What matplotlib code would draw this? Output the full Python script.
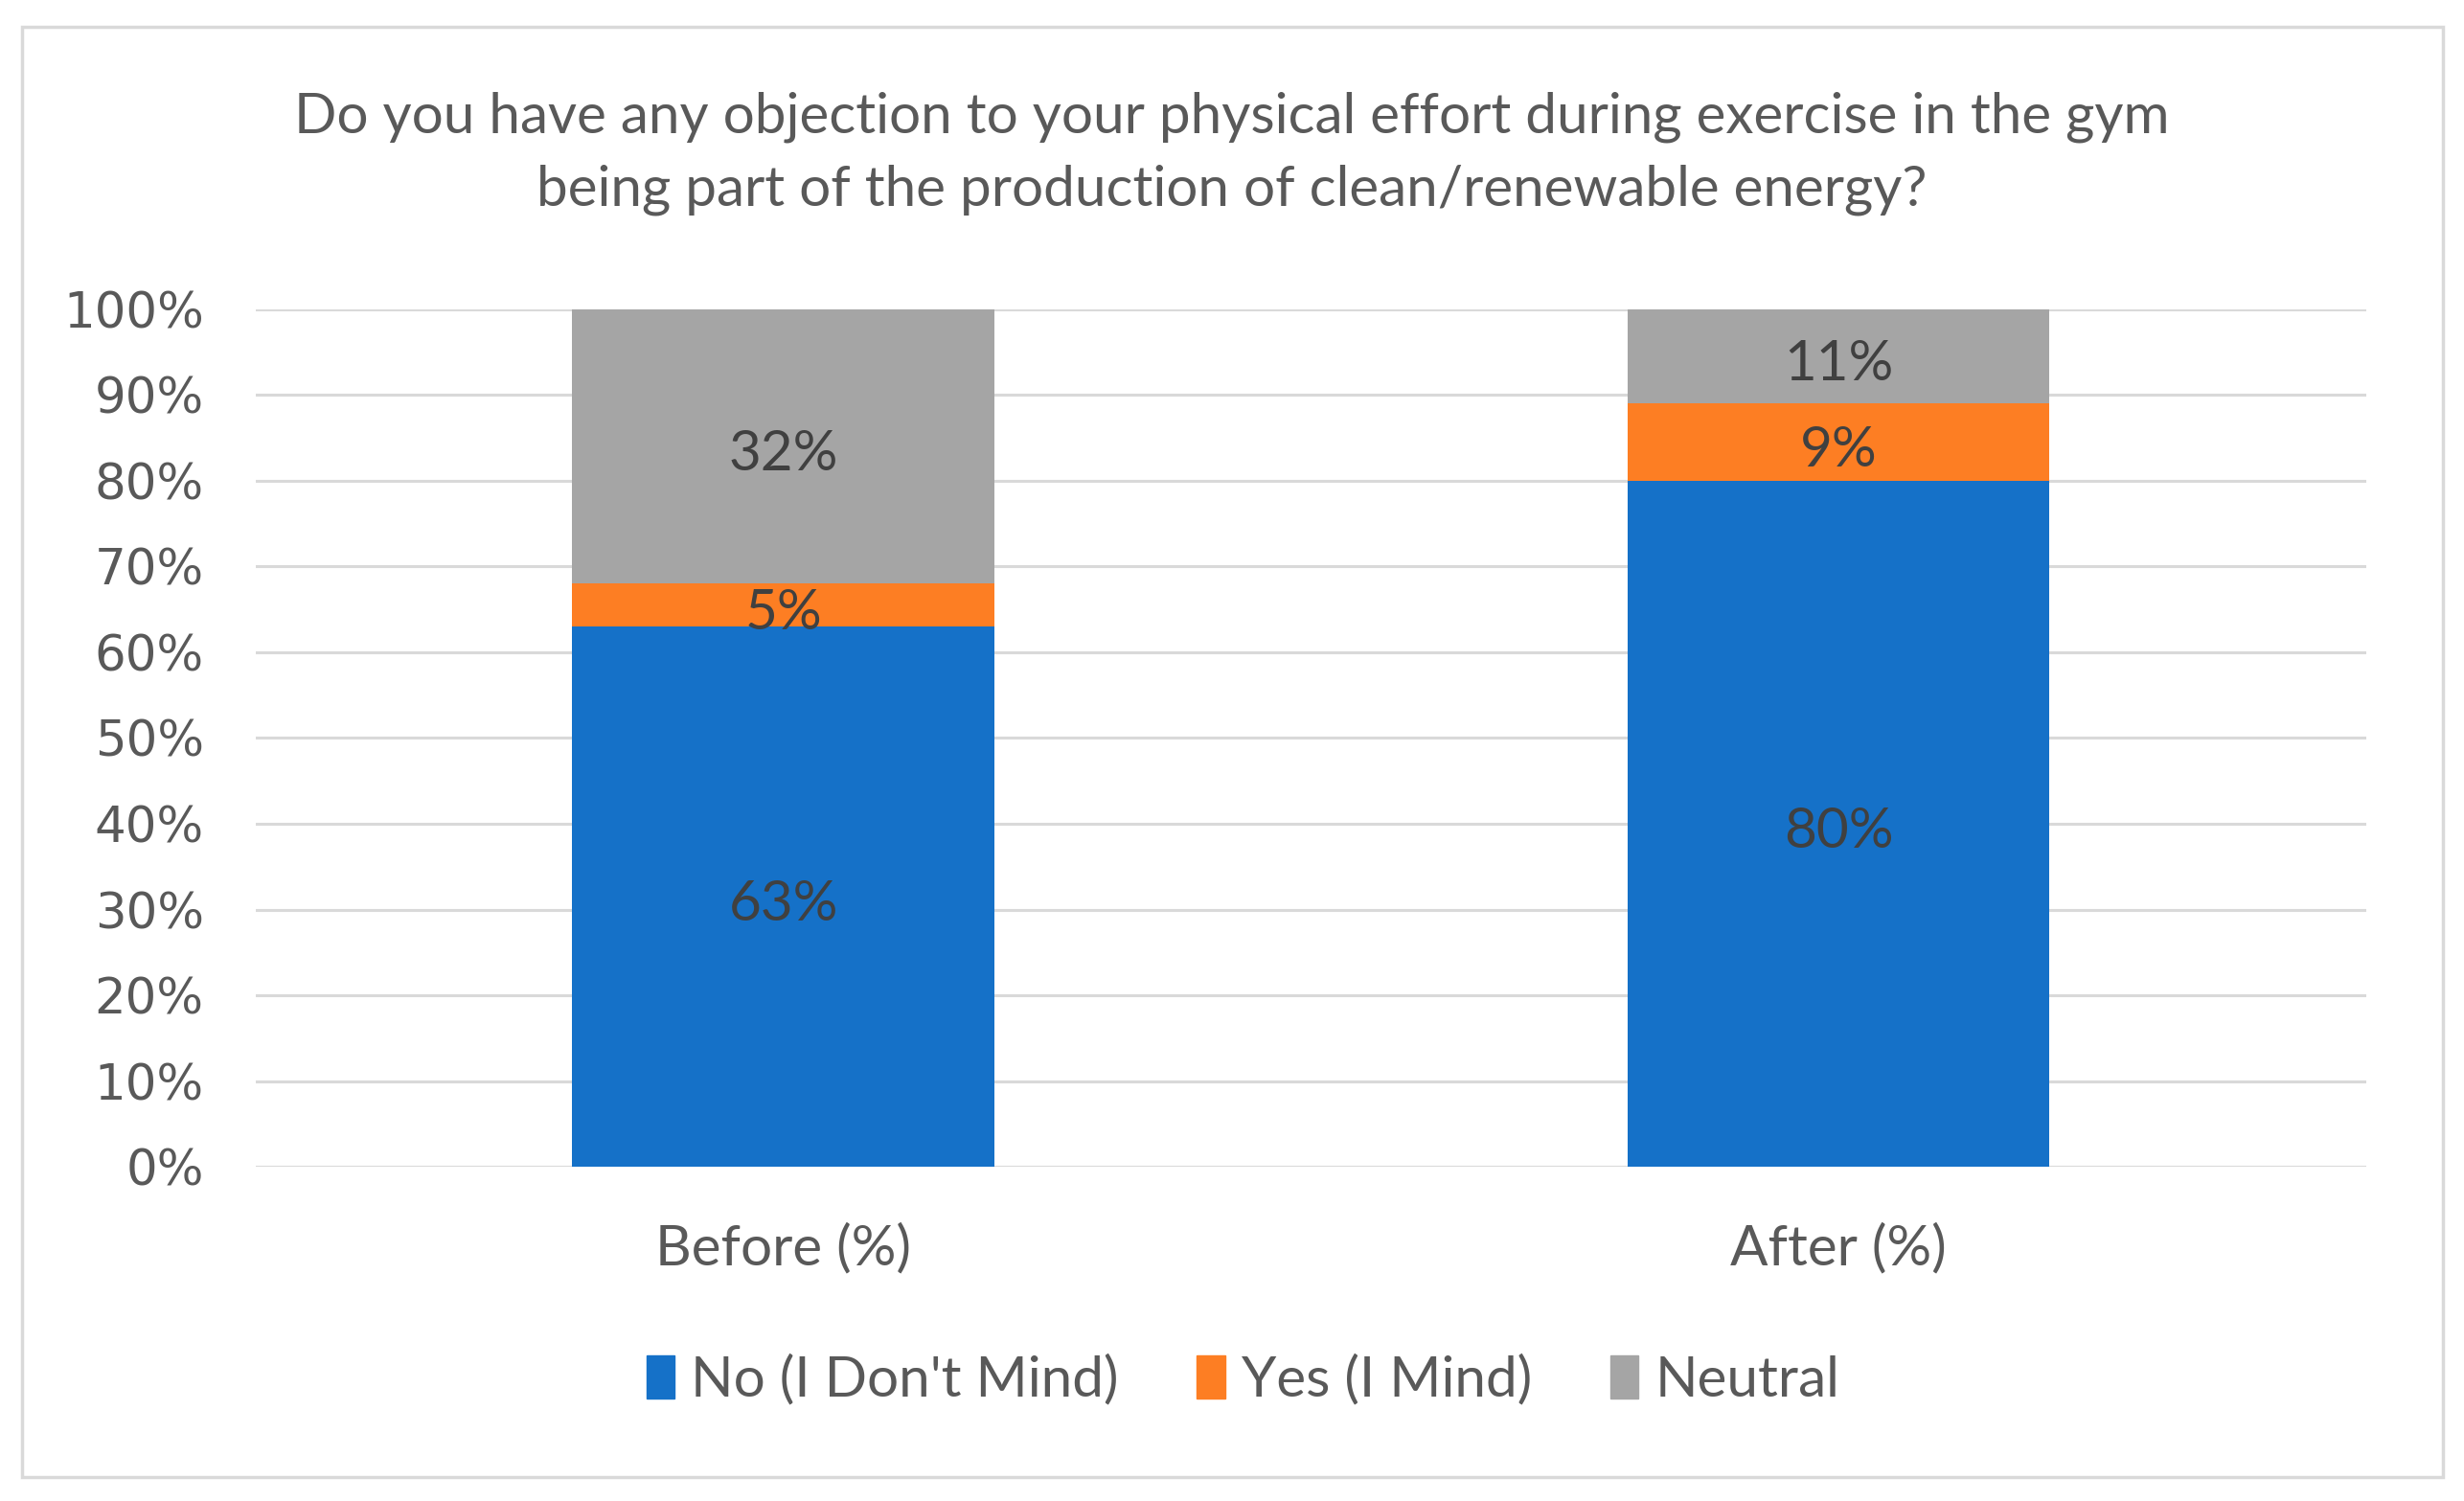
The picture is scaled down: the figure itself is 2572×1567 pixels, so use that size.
import numpy as np
import matplotlib
matplotlib.use("Agg")
import matplotlib.pyplot as plt
from matplotlib.patches import Rectangle, Patch

# data
categories = ["Before (%)", "After (%)"]
series_names = ["No (I Don't Mind)", "Yes (I Mind)", "Neutral"]
no_vals = [63, 80]
yes_vals = [5, 9]
neutral_vals = [32, 11]
y_ticks = [0, 10, 20, 30, 40, 50, 60, 70, 80, 90, 100]

colors = ["#1571C8", "#FD7E23", "#A5A5A5"]
title = ("Do you have any objection to your physical effort during exercise in the gym\n"
         "being part of the production of clean/renewable energy?")

fig = plt.figure(figsize=(25.72, 15.67), dpi=100)
ax = fig.add_axes([0.1038, 0.2227, 0.8565, 0.5712])

x = np.arange(len(categories))
bottom = np.zeros(len(categories))
for vals, col in zip([no_vals, yes_vals, neutral_vals], colors):
    vals = np.array(vals, dtype=float)
    ax.bar(x, vals, 0.4, bottom=bottom, color=col, zorder=3)
    for xi, b, v in zip(x, bottom, vals):
        ax.annotate(f"{int(v)}%", (xi, b + v / 2), xytext=(0, -6),
                    textcoords="offset points", ha="center", va="center",
                    fontsize=42, color="#404040", family="Lato", zorder=4)
    bottom += vals

ax.set_xlim(-0.5, 1.5)
ax.set_ylim(0, 100)
ax.set_yticks(y_ticks)
ax.set_yticklabels([f"{t}%" for t in y_ticks], fontsize=37, color="#595959",
                   family="DejaVu Sans")
ax.set_xticks(x)
ax.set_xticklabels(categories, fontsize=42, color="#595959", family="Lato")
ax.tick_params(axis="both", length=0)
ax.tick_params(axis="y", pad=39)
ax.tick_params(axis="x", pad=42)
for s in ax.spines.values():
    s.set_visible(False)
ax.yaxis.grid(True, color="#D9D9D9", linewidth=2.2, zorder=0)
ax.set_axisbelow(True)

fig.text(0.5, 0.8975, title, ha="center", va="center", fontsize=42,
         color="#595959", family="Lato", linespacing=1.52)

handles = [Patch(color=c, label=n) for c, n in zip(colors, series_names)]
fig.legend(handles=handles, loc="center", bbox_to_anchor=(0.5045, 0.0805), ncol=3,
           frameon=False, prop={"family": "Lato", "size": 42}, labelcolor="#595959",
           handlelength=0.5, handleheight=0.8, handletextpad=0.3, columnspacing=1.4)

fig.patches.append(Rectangle((23 / 2572, 1 - 1542 / 1567), (2550 - 23) / 2572,
                             (1542 - 28) / 1567, transform=fig.transFigure,
                             fill=False, edgecolor="#D9D9D9", linewidth=2.5))

fig.savefig("out.png", dpi=100, facecolor="white")
